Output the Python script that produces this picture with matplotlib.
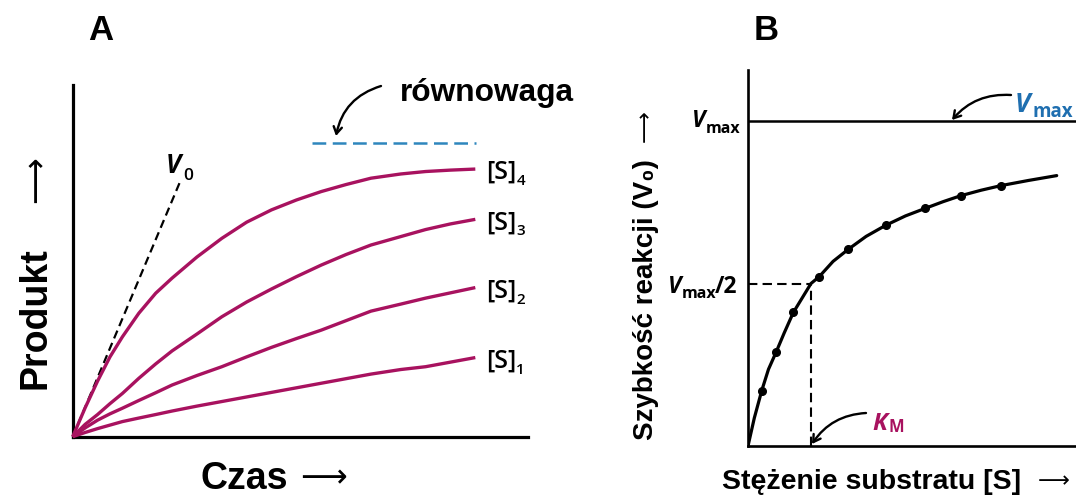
import matplotlib
matplotlib.use("Agg")
import matplotlib.pyplot as plt
from matplotlib.patches import FancyArrowPatch

# ---------------- data ----------------
# Panel A: product vs time for four substrate concentrations
time_pts = [0, 0.25, 0.5, 0.75, 1, 1.33, 1.67, 2, 2.5, 3, 3.5, 4, 4.5, 5, 5.5, 6, 6.6, 7.1, 7.6, 8.1]
prod_s4 = [0, 0.82, 1.58, 2.27, 2.84, 3.51, 4.08, 4.51, 5.11, 5.64, 6.10, 6.45, 6.73, 6.97, 7.17, 7.35, 7.47, 7.54, 7.58, 7.61]
prod_s3 = [0, 0.35, 0.63, 0.94, 1.23, 1.66, 2.07, 2.44, 2.92, 3.41, 3.83, 4.20, 4.55, 4.88, 5.18, 5.45, 5.69, 5.89, 6.05, 6.18]
prod_s2 = [0, 0.25, 0.47, 0.65, 0.81, 1.03, 1.25, 1.47, 1.74, 1.99, 2.27, 2.54, 2.79, 3.03, 3.30, 3.57, 3.77, 3.94, 4.09, 4.24]
prod_s1 = [0, 0.12, 0.23, 0.33, 0.43, 0.53, 0.63, 0.73, 0.87, 1.00, 1.13, 1.26, 1.39, 1.52, 1.65, 1.78, 1.91, 1.99, 2.12, 2.25]
series_subs = ["4", "3", "2", "1"]
v0_t = [0, 2.16]
v0_p = [0, 7.25]
equil_t = [4.81, 8.11]
equil_p = [8.36, 8.36]

# Panel B: Michaelis-Menten curve
s_dots = [0.435, 0.889, 1.44, 2.26, 3.18, 4.37, 5.62, 6.75, 8.02]
v_dots = [17.0, 28.8, 41.1, 52.1, 60.5, 67.9, 73.1, 77.0, 80.1]
s_curve = [0, 0.2, 0.435, 0.65, 0.889, 1.15, 1.44, 2.0, 2.26, 2.7, 3.18, 3.75, 4.37, 5.0, 5.62, 6.2, 6.75, 7.4, 8.02, 8.9, 9.8]
v_curve = [0, 8.6, 17.0, 23.6, 28.8, 34.8, 41.1, 50.0, 52.1, 56.8, 60.5, 64.5, 67.9, 70.8, 73.1, 75.2, 77.0, 78.7, 80.1, 81.7, 83.2]
vmax = 100.0
km = 2.0

# ---------------- styling ----------------
W, H = 1076, 497
MAG = "#a8125f"
BLUE_D = "#2e86bd"
BLUE_T = "#1f6fb0"
SANS = ["Liberation Sans", "DejaVu Sans"]
OPEN = ["Open Sans", "DejaVu Sans"]
ARROWF = ["DejaVu Sans"]
ARROW = "\u27F6"

fig = plt.figure(figsize=(W / 100, H / 100), dpi=100)
fig.patch.set_facecolor("white")


def fx(px):
    return px / W


def fy(py):
    return 1 - py / H


def rect(l, t, r, b):
    return [l / W, 1 - b / H, (r - l) / W, (b - t) / H]


def style_axes(ax, lw):
    for s in ("top", "right"):
        ax.spines[s].set_visible(False)
    for s in ("left", "bottom"):
        ax.spines[s].set_linewidth(lw)
        ax.spines[s].set_capstyle("projecting")
    ax.set_xticks([])
    ax.set_yticks([])
    ax.patch.set_alpha(0)


def ftext(x, y, s, size, family=SANS, weight="bold", style="normal",
          color="black", ha="left", va="baseline", rotation=0):
    return fig.text(fx(x), fy(y), s, fontsize=size, family=family,
                    weight=weight, style=style, color=color, ha=ha, va=va,
                    rotation=rotation, rotation_mode="anchor")


def farrow(p0, p1, rad):
    a = FancyArrowPatch((fx(p0[0]), fy(p0[1])), (fx(p1[0]), fy(p1[1])),
                        transform=fig.transFigure,
                        connectionstyle=f"arc3,rad={rad}",
                        arrowstyle="->,head_length=5,head_width=3",
                        lw=1.7, color="black", shrinkA=0, shrinkB=0)
    fig.add_artist(a)


# ---------------- Panel A ----------------
axA = fig.add_axes(rect(72.7, 85, 528, 436.7))
axA.set_xlim(0, 9.16)
axA.set_ylim(0, 10)
style_axes(axA, 2.3)

series = [prod_s4, prod_s3, prod_s2, prod_s1]
axA.plot(v0_t, v0_p, color="black", lw=1.6, ls=(0, (3.8, 2.2)), zorder=2)
for pp, sub in zip(series, series_subs):
    axA.plot(time_pts, pp, color=MAG, lw=2.4, solid_capstyle="butt",
             solid_joinstyle="round", zorder=3, clip_on=False)
    axA.annotate("[S]", xy=(time_pts[-1], pp[-1]), xytext=(11, -10), textcoords="offset pixels",
                 fontsize=18, family=OPEN, weight="semibold", va="baseline", ha="left")
    axA.annotate(sub, xy=(time_pts[-1], pp[-1]), xytext=(41, -16), textcoords="offset pixels",
                 fontsize=11, family=OPEN, weight="semibold", va="baseline", ha="left")
axA.plot(equil_t, equil_p, color=BLUE_D, lw=1.8, ls=(0, (5.5, 2.6)))

# V0 label
axA.annotate("V", xy=(v0_t[-1], v0_p[-1]), xytext=(-14, 9), textcoords="offset pixels",
             fontsize=18.5, family=OPEN, weight="bold", style="italic", va="baseline")
axA.annotate("0", xy=(v0_t[-1], v0_p[-1]), xytext=(3, 2), textcoords="offset pixels",
             fontsize=12.5, family=OPEN, weight="semibold", va="baseline")

ftext(400, 101, "równowaga", 22.8)
farrow((381, 86), (336, 136), 0.3)

# axis titles of panel A
ftext(46, 389, "Produkt", 27, rotation=90)
ftext(45, 203, ARROW, 23.5, family=ARROWF, weight="normal", rotation=90)
ftext(200, 489, "Czas", 27)
ftext(300, 487, ARROW, 23.5, family=ARROWF, weight="normal")
ftext(101, 31, "A", 25, ha="center", va="center")

# ---------------- Panel B ----------------
axB = fig.add_axes(rect(748, 70, 1076, 446))
axB.set_xlim(0, 328 / 31.5)
axB.set_ylim(0, 376 / 3.25)
style_axes(axB, 1.9)
axB.axhline(vmax, color="black", lw=1.8)
axB.plot([0, km], [vmax / 2, vmax / 2], color="black", lw=1.5, ls=(0, (4.5, 2.5)))
axB.plot([km, km], [0, vmax / 2], color="black", lw=1.5, ls=(0, (4.5, 2.5)))
axB.plot(s_curve, v_curve, color="black", lw=2.3, solid_capstyle="round", solid_joinstyle="round")
axB.plot(s_dots, v_dots, "o", color="black", ms=5.5)

# Vmax axis labels
ftext(691.7, 127, "V", 16.5, family=OPEN, style="italic")
ftext(706, 133, "max", 11.5, family=OPEN)
ftext(668.3, 293, "V", 16.5, family=OPEN, style="italic")
ftext(682, 298, "max", 11.5, family=OPEN)
ftext(715, 293, "/2", 16.5, family=OPEN)

# Blue Vmax annotation
ftext(1015, 112, "V", 19, family=OPEN, style="italic", color=BLUE_T)
ftext(1033, 117, "max", 13.5, family=OPEN, color=BLUE_T)
farrow((1011, 95), (952, 120), 0.25)

# KM annotation
ftext(872, 430, "K", 17.5, family=OPEN, style="italic", color=MAG)
ftext(888, 432, "M", 12, family=OPEN, color=MAG)
farrow((866, 413), (812, 444), 0.25)

# axis titles of panel B
ftext(653, 440, "Szybkość reakcji (V\u2080)", 20, rotation=90)
ftext(651, 142, ARROW, 16, family=ARROWF, weight="normal", rotation=90)
ftext(722, 489, "Stężenie substratu [S]", 20.5)
ftext(1038, 487, ARROW, 16, family=ARROWF, weight="normal")
ftext(766, 30, "B", 25, ha="center", va="center")

fig.savefig("out.png", dpi=100, facecolor="white")
